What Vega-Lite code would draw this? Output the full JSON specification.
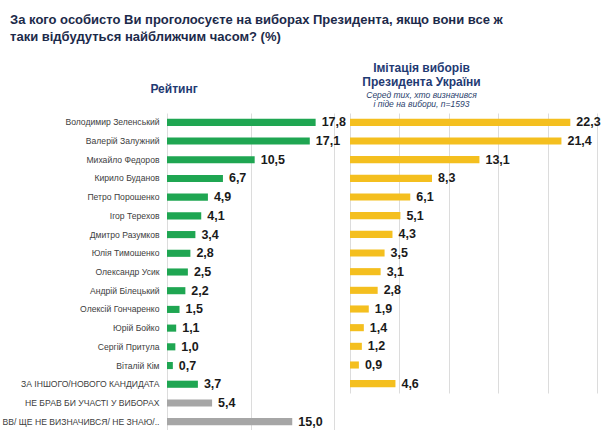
{
  "$schema": "https://vega.github.io/schema/vega-lite/v6.json",
  "background": "white",
  "padding": {"left": 2, "top": 14, "right": 5, "bottom": 0},
  "title": {
    "text": ["За кого особисто Ви проголосуєте на виборах Президента, якщо вони все ж", "таки відбудуться найближчим часом? (%)"],
    "anchor": "start",
    "frame": "bounds",
    "dx": 8,
    "font": "Liberation Sans",
    "fontSize": 13,
    "fontWeight": "bold",
    "color": "#1c2a4a",
    "lineHeight": 17,
    "offset": 18
  },
  "datasets": {
    "poll": [
      {"name": "Володимир Зеленський", "rating": 17.8, "imitation": 22.3, "kind": "candidate"},
      {"name": "Валерій Залужний", "rating": 17.1, "imitation": 21.4, "kind": "candidate"},
      {"name": "Михайло Федоров", "rating": 10.5, "imitation": 13.1, "kind": "candidate"},
      {"name": "Кирило Буданов", "rating": 6.7, "imitation": 8.3, "kind": "candidate"},
      {"name": "Петро Порошенко", "rating": 4.9, "imitation": 6.1, "kind": "candidate"},
      {"name": "Ігор Терехов", "rating": 4.1, "imitation": 5.1, "kind": "candidate"},
      {"name": "Дмитро Разумков", "rating": 3.4, "imitation": 4.3, "kind": "candidate"},
      {"name": "Юлія Тимошенко", "rating": 2.8, "imitation": 3.5, "kind": "candidate"},
      {"name": "Олександр Усик", "rating": 2.5, "imitation": 3.1, "kind": "candidate"},
      {"name": "Андрій Білецький", "rating": 2.2, "imitation": 2.8, "kind": "candidate"},
      {"name": "Олексій Гончаренко", "rating": 1.5, "imitation": 1.9, "kind": "candidate"},
      {"name": "Юрій Бойко", "rating": 1.1, "imitation": 1.4, "kind": "candidate"},
      {"name": "Сергій Притула", "rating": 1.0, "imitation": 1.2, "kind": "candidate"},
      {"name": "Віталій Кім", "rating": 0.7, "imitation": 0.9, "kind": "candidate"},
      {"name": "ЗА ІНШОГО/НОВОГО КАНДИДАТА", "rating": 3.7, "imitation": 4.6, "kind": "candidate"},
      {"name": "НЕ БРАВ БИ УЧАСТІ У ВИБОРАХ", "rating": 5.4, "imitation": null, "kind": "other"},
      {"name": "ВВ/ ЩЕ НЕ ВИЗНАЧИВСЯ/ НЕ ЗНАЮ/..", "rating": 15.0, "imitation": null, "kind": "other"}
    ]
  },
  "bounds": "flush",
  "spacing": 16,
  "resolve": {"scale": {"y": "independent", "x": "independent"}},
  "hconcat": [
    {
      "width": 167,
      "height": 318,
      "data": {"name": "poll"},
      "title": {
        "text": "Рейтинг",
        "anchor": "middle",
        "frame": "bounds",
        "font": "Liberation Sans",
        "fontSize": 12,
        "fontWeight": "bold",
        "color": "#1f3a73",
        "offset": 17
      },
      "encoding": {
        "y": {
          "field": "name",
          "type": "nominal",
          "sort": null,
          "scale": {"paddingInner": 0.62, "paddingOuter": 0.31},
          "axis": {
            "title": null,
            "ticks": false,
            "domain": false,
            "labelPadding": 8,
            "labelFont": "Liberation Sans",
            "labelFontSize": 8.6,
            "labelColor": "#404040",
            "labelLimit": 300
          }
        },
        "x": {
          "field": "rating",
          "type": "quantitative",
          "scale": {"domain": [0, 20], "nice": false},
          "axis": {
            "title": null,
            "labels": false,
            "ticks": false,
            "domain": false,
            "grid": true,
            "values": [0, 10, 20],
            "gridColor": "#dcdcdc",
            "gridWidth": 1
          }
        }
      },
      "layer": [
        {
          "mark": {"type": "bar"},
          "encoding": {
            "color": {
              "field": "kind",
              "type": "nominal",
              "scale": {"domain": ["candidate", "other"], "range": ["#1fa652", "#a6a6a6"]},
              "legend": null
            }
          }
        },
        {
          "mark": {"type": "text", "align": "left", "baseline": "middle", "dx": 6, "font": "Liberation Sans", "fontSize": 12.5, "fontWeight": "bold", "color": "#1a1a1a"},
          "encoding": {
            "text": {"field": "rating", "type": "quantitative", "format": ".1f"}
          }
        }
      ]
    },
    {
      "width": 247,
      "height": 280,
      "data": {"name": "poll"},
      "transform": [{"filter": "isValid(datum.imitation)"}],
      "title": {
        "text": ["Імітація виборів", "Президента України"],
        "subtitle": ["Серед тих, хто визначився", "і піде на вибори, n=1593"],
        "anchor": "middle",
        "frame": "group",
        "dx": -52,
        "font": "Liberation Sans",
        "fontSize": 12,
        "fontWeight": "bold",
        "color": "#1f3a73",
        "lineHeight": 14,
        "subtitleFont": "Liberation Sans",
        "subtitleFontSize": 8.5,
        "subtitleFontStyle": "italic",
        "subtitleColor": "#2b3f6e",
        "subtitleLineHeight": 8.5,
        "subtitlePadding": 2,
        "offset": 4
      },
      "encoding": {
        "y": {
          "field": "name",
          "type": "nominal",
          "sort": null,
          "scale": {"paddingInner": 0.62, "paddingOuter": 0.31},
          "axis": null
        },
        "x": {
          "field": "imitation",
          "type": "quantitative",
          "scale": {"domain": [0, 25], "nice": false},
          "axis": {
            "title": null,
            "labels": false,
            "ticks": false,
            "domain": false,
            "grid": true,
            "values": [0, 5, 10, 15, 20, 25],
            "gridColor": "#dcdcdc",
            "gridWidth": 1
          }
        }
      },
      "layer": [
        {
          "mark": {"type": "bar", "color": "#f4bf1f"}
        },
        {
          "mark": {"type": "text", "align": "left", "baseline": "middle", "dx": 6, "font": "Liberation Sans", "fontSize": 12.5, "fontWeight": "bold", "color": "#1a1a1a"},
          "encoding": {
            "text": {"field": "imitation", "type": "quantitative", "format": ".1f"}
          }
        }
      ]
    }
  ],
  "config": {
    "view": {"stroke": null},
    "locale": {"number": {"decimal": ",", "thousands": " ", "grouping": [3], "currency": ["", " грн"]}}
  }
}
